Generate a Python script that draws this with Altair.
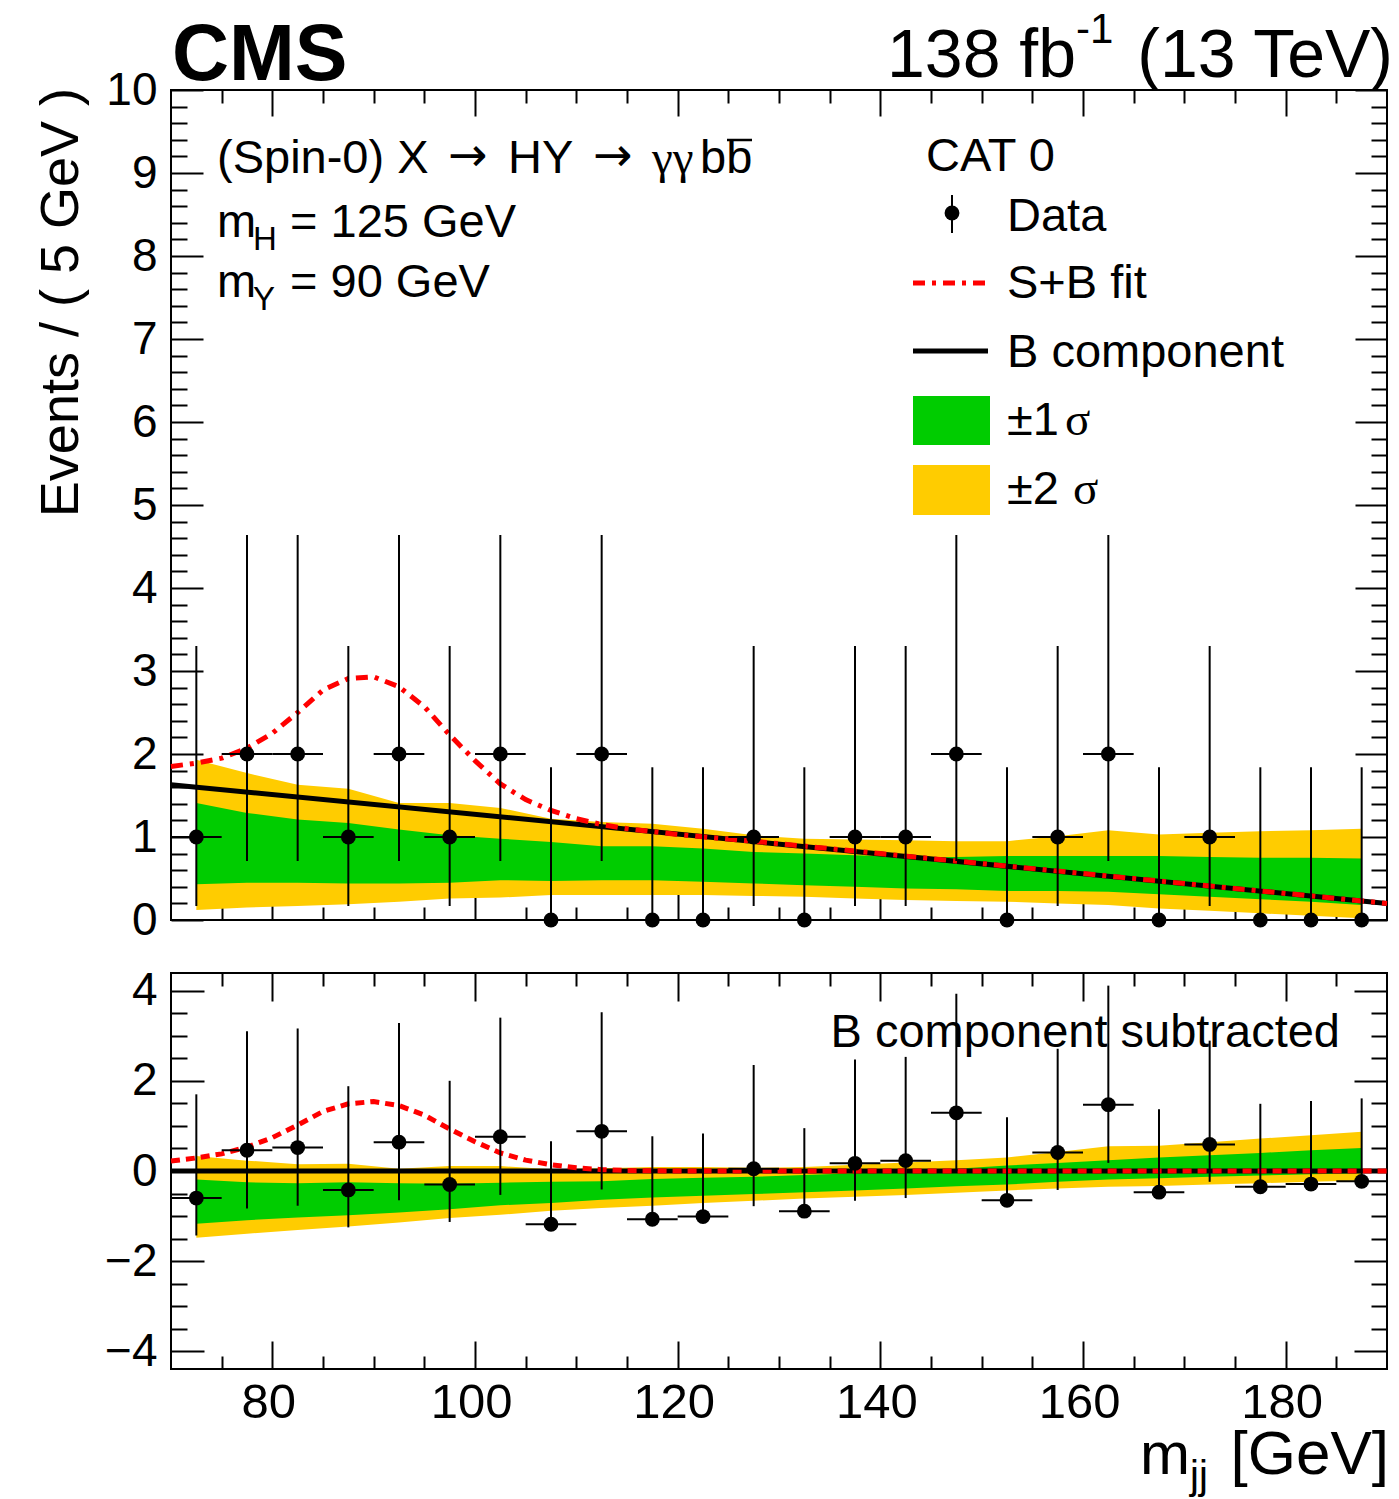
import altair as alt
import pandas as pd

FONT = "Liberation Sans"
SERIF = "Liberation Serif"
ARROWFONT = "DejaVu Sans"

# ---------------- data ----------------
bin_centers = [72.5, 77.5, 82.5, 87.5, 92.5, 97.5, 102.5, 107.5, 112.5, 117.5, 122.5, 127.5,
               132.5, 137.5, 142.5, 147.5, 152.5, 157.5, 162.5, 167.5, 172.5, 177.5, 182.5, 187.5]
counts = [1, 2, 2, 1, 2, 1, 2, 0, 2, 0, 0, 1, 0, 1, 1, 2, 0, 1, 2, 0, 1, 0, 0, 0]
err_lo = [0.83, 1.29, 1.29, 0.83, 1.29, 0.83, 1.29, 0.0, 1.29, 0.0, 0.0, 0.83,
          0.0, 0.83, 0.83, 1.29, 0.0, 0.83, 1.29, 0.0, 0.83, 0.0, 0.0, 0.0]
err_hi = [2.30, 2.64, 2.64, 2.30, 2.64, 2.30, 2.64, 1.84, 2.64, 1.84, 1.84, 2.30,
          1.84, 2.30, 2.30, 2.64, 1.84, 2.30, 2.64, 1.84, 2.30, 1.84, 1.84, 1.84]
bin_half_width = 2.5

# B component evaluated at the bin centres
bkg_at_centers = [1.60, 1.54, 1.48, 1.42, 1.36, 1.30, 1.24, 1.18, 1.12, 1.07, 1.01, 0.95,
                  0.89, 0.83, 0.77, 0.71, 0.65, 0.59, 0.53, 0.47, 0.41, 0.35, 0.29, 0.23]

# uncertainty bands on the B component (top panel)
band2_lo = [0.12, 0.15, 0.17, 0.19, 0.22, 0.26, 0.27, 0.30, 0.30, 0.30, 0.30, 0.29,
            0.28, 0.26, 0.24, 0.23, 0.22, 0.20, 0.18, 0.14, 0.11, 0.08, 0.05, 0.02]
band1_lo = [0.43, 0.45, 0.45, 0.44, 0.44, 0.45, 0.48, 0.47, 0.48, 0.48, 0.46, 0.44,
            0.42, 0.40, 0.38, 0.37, 0.35, 0.35, 0.34, 0.31, 0.28, 0.25, 0.22, 0.18]
band1_hi = [1.41, 1.29, 1.21, 1.17, 1.09, 1.02, 0.98, 0.94, 0.89, 0.89, 0.86, 0.82,
            0.80, 0.78, 0.76, 0.76, 0.77, 0.77, 0.77, 0.77, 0.76, 0.75, 0.75, 0.74]
band2_hi = [1.93, 1.77, 1.63, 1.58, 1.41, 1.41, 1.35, 1.22, 1.18, 1.16, 1.10, 1.02,
            0.98, 0.97, 0.96, 0.95, 0.95, 1.01, 1.08, 1.03, 1.05, 1.07, 1.08, 1.10]

# B component line
bkg_x = [70, 190]
bkg_y = [1.63, 0.20]

# S+B fit curve (top panel)
sb_x = [70, 72.5, 75, 77.5, 80, 82.5, 85, 87.5, 90, 92.5, 95, 97.5, 100, 102.5, 105,
        107.5, 110, 112.5, 115, 120, 130, 140, 150, 160, 170, 180, 190]
sb_y = [1.85, 1.89, 1.95, 2.07, 2.25, 2.50, 2.77, 2.91, 2.93, 2.81, 2.57, 2.23, 1.92, 1.64, 1.45,
        1.32, 1.22, 1.15, 1.10, 1.03, 0.92, 0.80, 0.68, 0.56, 0.44, 0.32, 0.20]

# signal part (bottom panel, B subtracted)
sig_x = [70, 72.5, 75, 77.5, 80, 82.5, 85, 87.5, 90, 92.5, 95, 97.5, 100, 102.5, 105,
         107.5, 110, 112.5, 115, 120, 190]
sig_y = [0.22, 0.29, 0.38, 0.53, 0.74, 1.02, 1.32, 1.49, 1.54, 1.45, 1.24, 0.93, 0.65, 0.40, 0.24,
         0.14, 0.07, 0.03, 0.01, 0.0, 0.0]

# axis ticks
x_major = [80, 100, 120, 140, 160, 180]
x_minor = [75, 85, 90, 95, 105, 110, 115, 125, 130, 135, 145, 150, 155, 165, 170, 175, 185]
y_top_major = [0, 1, 2, 3, 4, 5, 6, 7, 8, 9, 10]
y_top_minor = [round(0.2 * i, 1) for i in range(1, 50) if i % 5 != 0]
y_bot_major = [-4, -2, 0, 2, 4]
y_bot_minor = [-3.5, -3, -2.5, -1.5, -1, -0.5, 0.5, 1, 1.5, 2.5, 3, 3.5]

# ---------------- tables ----------------
pts = pd.DataFrame({"m": bin_centers, "n": counts, "elo": err_lo, "ehi": err_hi, "b": bkg_at_centers})
pts["lo"] = pts.n - pts.elo
pts["hi"] = pts.n + pts.ehi
pts["xl"] = pts.m - bin_half_width
pts["xr"] = pts.m + bin_half_width
pts["r"] = pts.n - pts.b
pts["rlo"] = pts.r - pts.elo
pts["rhi"] = pts.r + pts.ehi

bands = pd.DataFrame({"m": bin_centers, "y2lo": band2_lo, "y1lo": band1_lo,
                      "y1hi": band1_hi, "y2hi": band2_hi, "b": bkg_at_centers})
for c in ["y2lo", "y1lo", "y1hi", "y2hi"]:
    bands["s_" + c] = bands[c] - bands.b

bkg_df = pd.DataFrame({"x": bkg_x, "y": bkg_y})
bkg_df["z"] = bkg_df.y - bkg_df.y
sb_df = pd.DataFrame({"x": sb_x, "y": sb_y})
sig_df = pd.DataFrame({"x": sig_x, "y": sig_y})

GREEN = "#00CC00"
YELLOW = "#FFCC00"
RED = "#FF0000"

xs = alt.Scale(domain=[70, 190], nice=False, zero=False)
ys_top = alt.Scale(domain=[0, 10], nice=False, zero=False)
ys_bot = alt.Scale(domain=[-4.39, 4.39], nice=False, zero=False)


def ax(orient, values, size, labels=False, fs=46, pad=10, loff=0):
    kw = dict(orient=orient, values=values, tickSize=size, offset=-size, domain=False, grid=False,
              ticks=True, tickColor="black", tickWidth=2, title=None, labels=labels)
    if labels:
        kw.update(labelFont=FONT, labelFontSize=fs, labelColor="black", labelPadding=pad,
                  labelFlush=False, labelOverlap=False, labelBound=False, labelOffset=loff)
    return alt.Axis(**kw)


def axis_layers(ys, ymaj, ymin, xmaj_len, ymaj_len, x_labels, y_pad, x_pad):
    out = []
    specs = [
        (ax("bottom", x_major, xmaj_len, labels=x_labels, fs=49, pad=x_pad, loff=-4),
         ax("left", ymaj, ymaj_len, labels=True, fs=46, pad=y_pad)),
        (ax("bottom", x_minor, 13), ax("left", ymin, ymaj_len // 2)),
        (ax("top", x_major, xmaj_len), ax("right", ymaj, ymaj_len)),
        (ax("top", x_minor, 13), ax("right", ymin, ymaj_len // 2)),
    ]
    for xa, ya in specs:
        out.append(alt.Chart(pts).mark_point(opacity=0, size=1).encode(
            x=alt.X("m:Q", scale=xs, axis=xa),
            y=alt.Y("n:Q", scale=ys, axis=ya)))
    return out


def txt(text, x, y, size, align="left", font=FONT, weight="normal", angle=0):
    return alt.Chart(alt.InlineData(values=[{"k": 0}])).mark_text(
        text=text, align=align, baseline="alphabetic", font=font, fontSize=size,
        fontWeight=weight, angle=angle, color="black").encode(x=alt.value(x), y=alt.value(y))


def hseg(x1, x2, y, color, width, dash=None):
    kw = dict(color=color, strokeWidth=width)
    if dash:
        kw["strokeDash"] = dash
    return alt.Chart(alt.InlineData(values=[{"k": 0}])).mark_rule(**kw).encode(
        x=alt.value(x1), x2=alt.value(x2), y=alt.value(y))


def data_layers(ys, ycol, locol, hicol, y2lo, y1lo, y1hi, y2hi, curve_df, curve_dash, bline_col):
    X = alt.X("m:Q", scale=xs, axis=None)
    L = []
    L.append(alt.Chart(bands).mark_area(color=YELLOW, opacity=1).encode(
        x=X, y=alt.Y(y2lo + ":Q", scale=ys, axis=None), y2=y2hi + ":Q"))
    L.append(alt.Chart(bands).mark_area(color=GREEN, opacity=1).encode(
        x=X, y=alt.Y(y1lo + ":Q", scale=ys, axis=None), y2=y1hi + ":Q"))
    L.append(alt.Chart(bkg_df).mark_line(color="black", strokeWidth=5).encode(
        x=alt.X("x:Q", scale=xs, axis=None), y=alt.Y(bline_col + ":Q", scale=ys, axis=None)))
    L.append(alt.Chart(curve_df).mark_line(color=RED, strokeWidth=5, strokeDash=curve_dash).encode(
        x=alt.X("x:Q", scale=xs, axis=None), y=alt.Y("y:Q", scale=ys, axis=None)))
    L.append(alt.Chart(pts).mark_rule(color="black", strokeWidth=2).encode(
        x=X, y=alt.Y(locol + ":Q", scale=ys, axis=None), y2=hicol + ":Q"))
    L.append(alt.Chart(pts).mark_rule(color="black", strokeWidth=2).encode(
        x=alt.X("xl:Q", scale=xs, axis=None), x2="xr:Q", y=alt.Y(ycol + ":Q", scale=ys, axis=None)))
    L.append(alt.Chart(pts).mark_circle(color="black", opacity=1, size=220).encode(
        x=X, y=alt.Y(ycol + ":Q", scale=ys, axis=None)))
    return L


# ---------------- top panel ----------------
top_layers = axis_layers(ys_top, y_top_major, y_top_minor, 26, 32, False, 14, 10)
top_layers += data_layers(ys_top, "n", "lo", "hi", "y2lo", "y1lo", "y1hi", "y2hi",
                          sb_df, [12, 7, 4, 7], "y")
top_layers += [
    txt("CMS", 1, -10, 79, weight="bold"),
    txt("138 fb", 716, -13, 68),
    txt("-1", 905, -47, 42),
    txt("(13 TeV)", 1222, -13, 68, align="right"),
    txt("Events / ( 5 GeV )", -93, -2, 54, align="right", angle=270),
    txt("(Spin-0) X", 46, 83, 47),
    txt("\u2192", 277, 81, 47, font=ARROWFONT),
    txt("HY", 337, 83, 47),
    txt("\u2192", 422, 81, 47, font=ARROWFONT),
    txt("\u03b3\u03b3", 481, 83, 47, font=SERIF),
    txt("bb", 529, 83, 47),
    hseg(556, 581, 50, "black", 2.5),
    txt("m", 46, 147, 47),
    txt("H", 82, 160, 33),
    txt("= 125 GeV", 119, 147, 47),
    txt("m", 46, 207, 47),
    txt("Y", 82, 220, 33),
    txt("= 90 GeV", 119, 207, 47),
    # legend
    txt("CAT 0", 755, 81, 47),
    alt.Chart(alt.InlineData(values=[{"k": 0}])).mark_rule(color="black", strokeWidth=2).encode(
        x=alt.value(781), y=alt.value(105), y2=alt.value(143)),
    alt.Chart(alt.InlineData(values=[{"k": 0}])).mark_circle(color="black", opacity=1, size=220).encode(
        x=alt.value(781), y=alt.value(123)),
    txt("Data", 836, 141, 47),
    hseg(742, 817, 193, RED, 5, [12, 7, 4, 7]),
    txt("S+B fit", 836, 208, 47),
    hseg(742, 817, 261, "black", 5),
    txt("B component", 836, 277, 47),
    alt.Chart(alt.InlineData(values=[{"k": 0}])).mark_rect(color=GREEN, opacity=1).encode(
        x=alt.value(742), x2=alt.value(819), y=alt.value(306), y2=alt.value(355)),
    txt("\u00b11", 836, 345, 47),
    txt("\u03c3", 894, 345, 47, font=SERIF),
    alt.Chart(alt.InlineData(values=[{"k": 0}])).mark_rect(color=YELLOW, opacity=1).encode(
        x=alt.value(742), x2=alt.value(819), y=alt.value(375), y2=alt.value(425)),
    txt("\u00b12", 836, 414, 47),
    txt("\u03c3", 902, 414, 47, font=SERIF),
]
top = alt.layer(*top_layers).properties(width=1216, height=830).resolve_axis(
    x="independent", y="independent")

# ---------------- bottom panel ----------------
bot_layers = axis_layers(ys_bot, y_bot_major, y_bot_minor, 28, 33, True, 14, 9)
bot_layers += data_layers(ys_bot, "r", "rlo", "rhi", "s_y2lo", "s_y1lo", "s_y1hi", "s_y2hi",
                          sig_df, [9, 6], "z")
bot_layers += [
    txt("B component subtracted", 1169, 74, 47, align="right"),
    txt("m", 969, 501, 60),
    txt("jj", 1019, 516, 40),
    txt("[GeV]", 1218, 501, 62, align="right"),
]
bottom = alt.layer(*bot_layers).properties(width=1216, height=396).resolve_axis(
    x="independent", y="independent")

chart = alt.vconcat(top, bottom, spacing=53, bounds="flush").properties(
    autosize=alt.AutoSizeParams(type="none"),
    padding={"left": 171, "top": 90, "right": 12, "bottom": 1409},
).configure(background="white", font=FONT).configure_view(stroke="black", strokeWidth=2)

chart.save("out.html", embed_options={"renderer": "svg", "actions": False})
